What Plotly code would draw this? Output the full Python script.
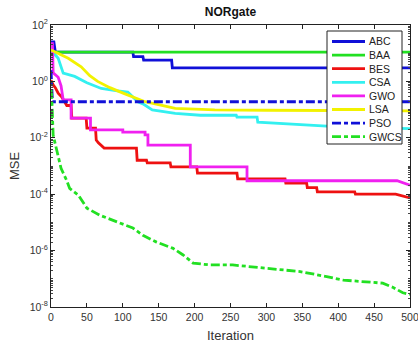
import plotly.graph_objects as go

# ---- data ----
abc_x = [0, 4, 6, 114, 115, 128, 129, 168, 169, 500]
abc_y = [25, 25, 11, 11, 7.5, 7.5, 5.7, 5.7, 3.0, 3.0]

baa_x = [0, 5, 500]
baa_y = [12, 11, 11]

bes_x = [0, 3, 6, 10, 15, 19, 22, 28, 29, 49, 50, 62, 63, 66, 72, 74, 119, 120, 133, 134,
         166, 167, 203, 204, 259, 260, 326, 327, 356, 357, 370, 371, 423, 424, 480, 500]
bes_y = [1.1, 0.75, 0.6, 0.38, 0.28, 0.19, 0.14, 0.14, 0.05, 0.05, 0.022, 0.022, 0.0083, 0.0066,
         0.0049, 0.0043, 0.0043, 0.0016, 0.0016, 0.0013, 0.0013, 0.00093, 0.00093, 0.00056,
         0.00056, 0.00035, 0.00035, 0.00025, 0.00025, 0.00017, 0.00017, 0.00012, 0.00012,
         0.0001, 0.0001, 0.000074]

csa_x = [0, 5, 10, 17, 33, 50, 70, 90, 107, 121, 128, 141, 173, 208, 258, 259, 287, 288, 330, 384, 440, 500]
csa_y = [13, 9, 6.6, 1.95, 1.5, 0.9, 0.56, 0.47, 0.42, 0.19, 0.16, 0.098, 0.074, 0.063, 0.063,
         0.054, 0.054, 0.036, 0.031, 0.026, 0.023, 0.021]

gwo_x = [0, 2, 3, 10, 14, 17, 28, 28, 55, 55, 100, 100, 131, 131, 135, 135, 194, 194, 273, 273, 482, 500]
gwo_y = [22, 22, 2.0, 1.4, 0.7, 0.22, 0.22, 0.05, 0.05, 0.019, 0.019, 0.016, 0.016, 0.0126,
         0.0126, 0.0055, 0.0055, 0.00093, 0.00093, 0.0003, 0.0003, 0.00021]

lsa_x = [0, 10, 24, 42, 54, 65, 82, 103, 131, 173, 228, 300, 400, 500]
lsa_y = [13, 10, 6.6, 3.3, 1.6, 1.0, 0.6, 0.36, 0.19, 0.11, 0.098, 0.095, 0.092, 0.09]

pso_x = [0, 2, 500]
pso_y = [2.5, 0.19, 0.19]

gwcs_x = [0, 1, 3, 10, 14, 22, 26, 38, 50, 68, 96, 114, 128, 147, 170, 184, 198, 221, 253,
          300, 347, 384, 407, 462, 476, 490, 500]
gwcs_y = [0.5, 0.3, 0.0125, 0.0022, 0.00083, 0.0003, 0.00016, 9.3e-5, 3.2e-5, 1.8e-5, 9.5e-6,
          6.3e-6, 3.5e-6, 2e-6, 1.2e-6, 7e-7, 3.6e-7, 3.1e-7, 3.1e-7, 2.4e-7, 1.8e-7, 1.2e-7,
          9e-8, 7e-8, 5e-8, 3.2e-8, 2.8e-8]

x_ticks = [0, 50, 100, 150, 200, 250, 300, 350, 400, 450, 500]
x_tick_labels = [str(v) for v in x_ticks]
y_tick_exps = [-8, -6, -4, -2, 0, 2]
y_tick_labels = ["10<sup>-8</sup>", "10<sup>-6</sup>", "10<sup>-4</sup>",
                 "10<sup>-2</sup>", "10<sup>0</sup>", "10<sup>2</sup>"]

names = ["ABC", "BAA", "BES", "CSA", "GWO", "LSA", "PSO", "GWCS"]
xs_all = [abc_x, baa_x, bes_x, csa_x, gwo_x, lsa_x, pso_x, gwcs_x]
ys_all = [abc_y, baa_y, bes_y, csa_y, gwo_y, lsa_y, pso_y, gwcs_y]
colors = ["#1010d8", "#22e022", "#ee1111", "#33f0f0", "#f020f0", "#f2f200", "#1010d8", "#22e022"]
DD = "9px,3px,4px,3px"
dashes = ["solid"] * 6 + [DD, DD]

W, H = 418, 345
L, R, T, B = 51, 8, 25, 38
PW, PH = W - L - R, H - T - B

def px(xp):
    return (xp - L) / PW

def py(yp):
    return (H - B - yp) / PH

fig = go.Figure()
for name, xs, ys, col, dash in zip(names, xs_all, ys_all, colors, dashes):
    fig.add_trace(go.Scatter(x=xs, y=ys, name=name, mode="lines",
                             line=dict(color=col, width=2.8, dash=dash)))

font = "Liberation Sans, Arial, sans-serif"

# manual legend (box, line samples, labels)
shapes = [dict(type="rect", xref="paper", yref="paper",
               x0=px(327), x1=px(402), y0=py(144), y1=py(31),
               line=dict(color="#222222", width=1), fillcolor="white", layer="above")]
annotations = []
for i, (name, col, dash) in enumerate(zip(names, colors, dashes)):
    yy = 41.5 + 13.6 * i
    shapes.append(dict(type="line", xref="paper", yref="paper",
                       x0=px(332), x1=px(365), y0=py(yy), y1=py(yy),
                       line=dict(color=col, width=2.8, dash=dash), layer="above"))
    annotations.append(dict(text=name, xref="paper", yref="paper", x=px(366.5), y=py(yy),
                            xanchor="left", yanchor="middle", showarrow=False,
                            font=dict(family=font, size=10.5, color="#222222")))

fig.update_layout(
    width=W, height=H,
    margin=dict(l=L, r=R, t=T, b=B),
    paper_bgcolor="white", plot_bgcolor="white",
    font=dict(family=font, size=10.5, color="#333333"),
    title=dict(text="<b>NORgate</b>", x=0.5, xref="paper", xanchor="center",
               y=1 - 12 / H, yref="container", yanchor="middle",
               font=dict(family=font, size=12, color="#111111")),
    showlegend=False,
    shapes=shapes,
    annotations=annotations,
)
fig.update_xaxes(range=[0, 500], tickvals=x_ticks, ticktext=x_tick_labels,
                 showgrid=False, zeroline=False, showline=True, linecolor="#222222",
                 linewidth=1, mirror="ticks", ticks="inside", ticklen=4, tickcolor="#222222",
                 ticklabeloverflow="allow",
                 title=dict(text="Iteration", standoff=9), automargin=False)
minor_vals = [k * 10.0 ** e for e in range(-8, 2) for k in range(1, 10)]
fig.update_yaxes(type="log", range=[-8, 2],
                 tickvals=[10.0 ** e for e in y_tick_exps], ticktext=y_tick_labels,
                 showgrid=False, zeroline=False, showline=True, linecolor="#222222",
                 linewidth=1, mirror="ticks", ticks="inside", ticklen=4, tickcolor="#222222",
                 minor=dict(ticks="inside", ticklen=2, tickvals=minor_vals, tickcolor="#444444"),
                 title=dict(text="MSE", standoff=7), automargin=False)

fig.write_html("out.html", config={"displayModeBar": False},
               post_script="document.body.style.margin='0';")
